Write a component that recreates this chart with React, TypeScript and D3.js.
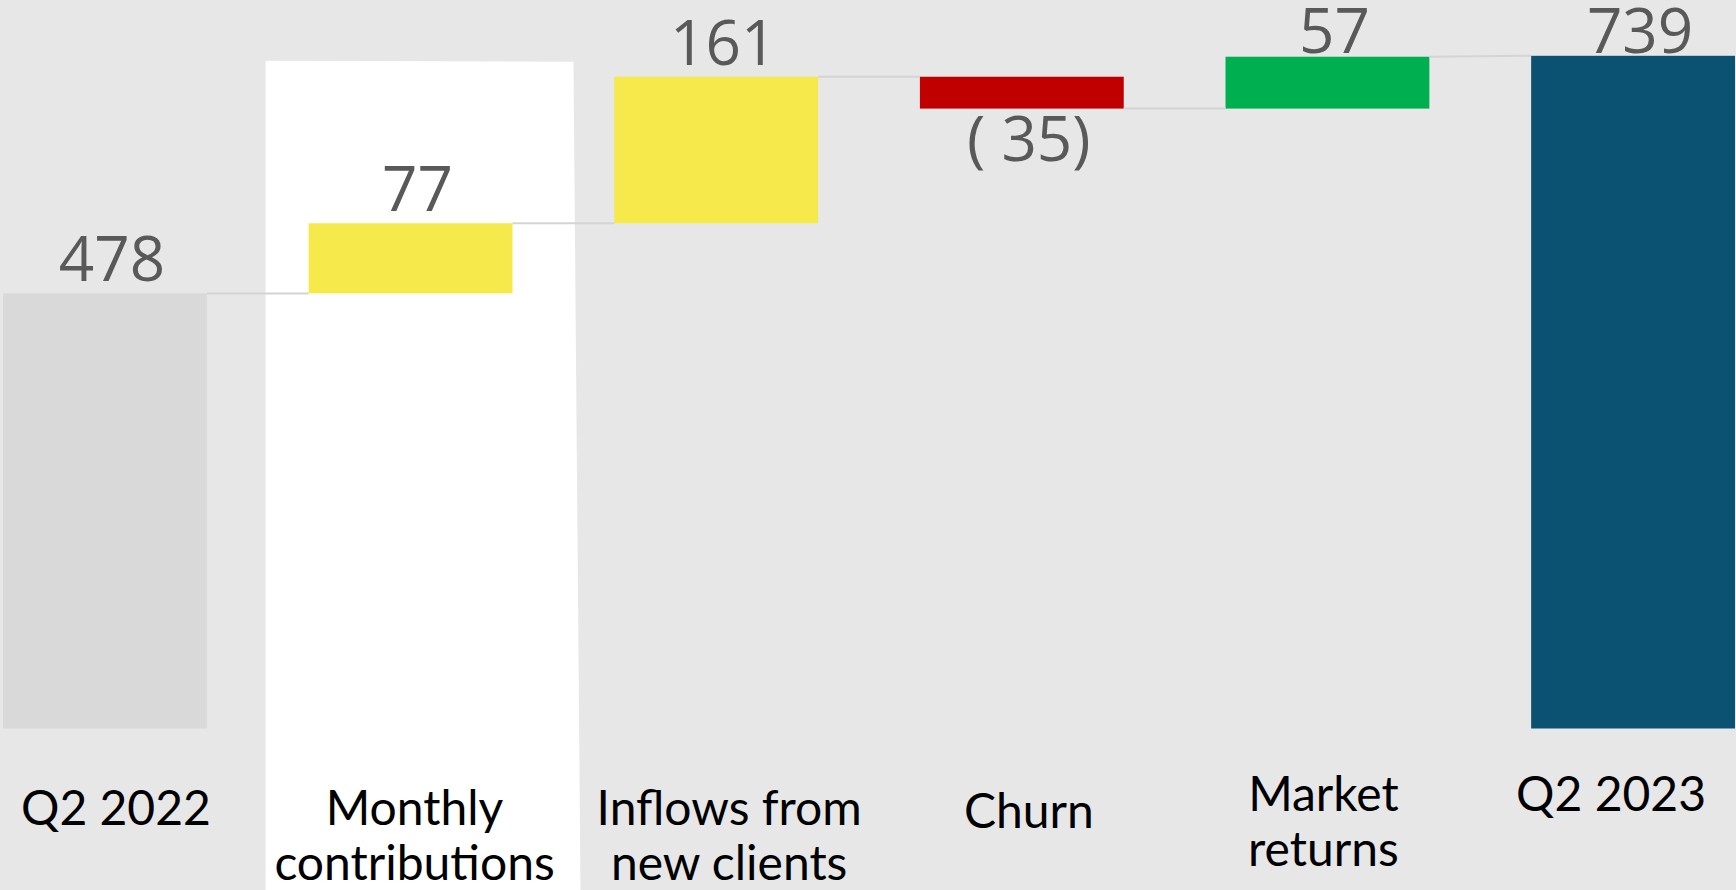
import React from "react";
import * as d3 from "d3";

// chart data
const categoryLines: string[][] = [
  ["Q2 2022"],
  ["Monthly", "contributions"],
  ["Inflows from", "new clients"],
  ["Churn"],
  ["Market", "returns"],
  ["Q2 2023"],
];
const values = [478, 77, 161, -35, 57, 739];
const isTotal = [true, false, false, false, false, true];
const barColors = ["#d9d9d9", "#f6e94b", "#f6e94b", "#c00000", "#00b050", "#0b5272"];
const highlighted = 1;

const WIDTH = 1736;
const HEIGHT = 890;

// small layout nudges for the category text boxes (the source wasn't uniform)
const labelDx = [11, 4, 13, 7, -4, -22];
const labelDy = [0, 0, 0, 3, -14, -14];

function App() {
  const svgRef = React.useRef<SVGSVGElement>(null);

  React.useEffect(() => {
    const svg = d3.select(svgRef.current);
    svg.selectAll("*").remove();

    // running totals for the waterfall
    let running = 0;
    const bars = values.map((v, i) => {
      if (isTotal[i]) {
        running = v;
        return { i, v, start: 0, end: v };
      }
      const start = running;
      running += v;
      return { i, v, start, end: running };
    });

    const x = d3
      .scaleBand<number>()
      .domain(d3.range(values.length))
      .range([3, 1735])
      .paddingInner(0.333)
      .paddingOuter(0);
    const y = d3.scaleLinear().domain([0, 739]).range([728.5, 55.8]);
    const bw = x.bandwidth();

    // background
    svg.append("rect").attr("width", WIDTH).attr("height", HEIGHT).attr("fill", "#e7e7e7");

    // highlight column behind "Monthly contributions"
    const hx = x(highlighted)!;
    svg
      .append("path")
      .attr(
        "d",
        `M${hx - 43},${y(739) + 5} L${hx + bw + 61},${y(739) + 6} L${hx + bw + 68},${HEIGHT} L${hx - 43},${HEIGHT} Z`
      )
      .attr("fill", "#ffffff");

    // bars
    svg
      .selectAll("rect.bar")
      .data(bars)
      .enter()
      .append("rect")
      .attr("class", "bar")
      .attr("x", (d) => x(d.i)!)
      .attr("y", (d) => y(Math.max(d.start, d.end)))
      .attr("width", bw)
      .attr("height", (d) => Math.abs(y(d.start) - y(d.end)))
      .attr("fill", (d) => barColors[d.i]);

    // connector lines
    const links = bars.slice(0, -1).map((d, k) => {
      const next = bars[k + 1];
      return {
        x1: x(d.i)! + bw,
        y1: y(d.end),
        x2: x(next.i)!,
        y2: y(isTotal[next.i] ? next.end : next.start),
      };
    });
    svg
      .selectAll("line.link")
      .data(links)
      .enter()
      .append("line")
      .attr("x1", (d) => d.x1)
      .attr("y1", (d) => d.y1)
      .attr("x2", (d) => d.x2)
      .attr("y2", (d) => d.y2)
      .attr("stroke", "#d4d4d4")
      .attr("stroke-width", 2);

    // value labels
    svg
      .selectAll("text.value")
      .data(bars)
      .enter()
      .append("text")
      .attr("x", (d) => x(d.i)! + bw / 2 + 7)
      .attr("y", (d) =>
        d.v < 0 ? y(d.end) + 52 : Math.max(y(Math.max(d.start, d.end)) - 12, 53)
      )
      .attr("text-anchor", "middle")
      .attr("font-family", "'Open Sans', sans-serif")
      .attr("font-size", 62)
      .attr("fill", "#595959")
      .text((d) => (d.v < 0 ? `( ${Math.abs(d.v)})` : `${d.v}`));

    // category labels
    const cat = svg
      .selectAll("text.cat")
      .data(categoryLines)
      .enter()
      .append("text")
      .attr("text-anchor", "middle")
      .attr("font-family", "Lato, sans-serif")
      .attr("font-size", 48)
      .attr("fill", "#000000");
    cat
      .selectAll("tspan")
      .data((lines, i) => lines.map((t) => ({ t, i })))
      .enter()
      .append("tspan")
      .attr("x", (d) => x(d.i)! + bw / 2 + labelDx[d.i])
      .attr("y", (d, j) => 825 + labelDy[d.i] + j * 55)
      .text((d) => d.t);
  }, []);

  return (
    <svg
      ref={svgRef}
      width={WIDTH}
      height={HEIGHT}
      style={{ position: "fixed", left: 0, top: 0, display: "block" }}
    />
  );
}

export default App;
